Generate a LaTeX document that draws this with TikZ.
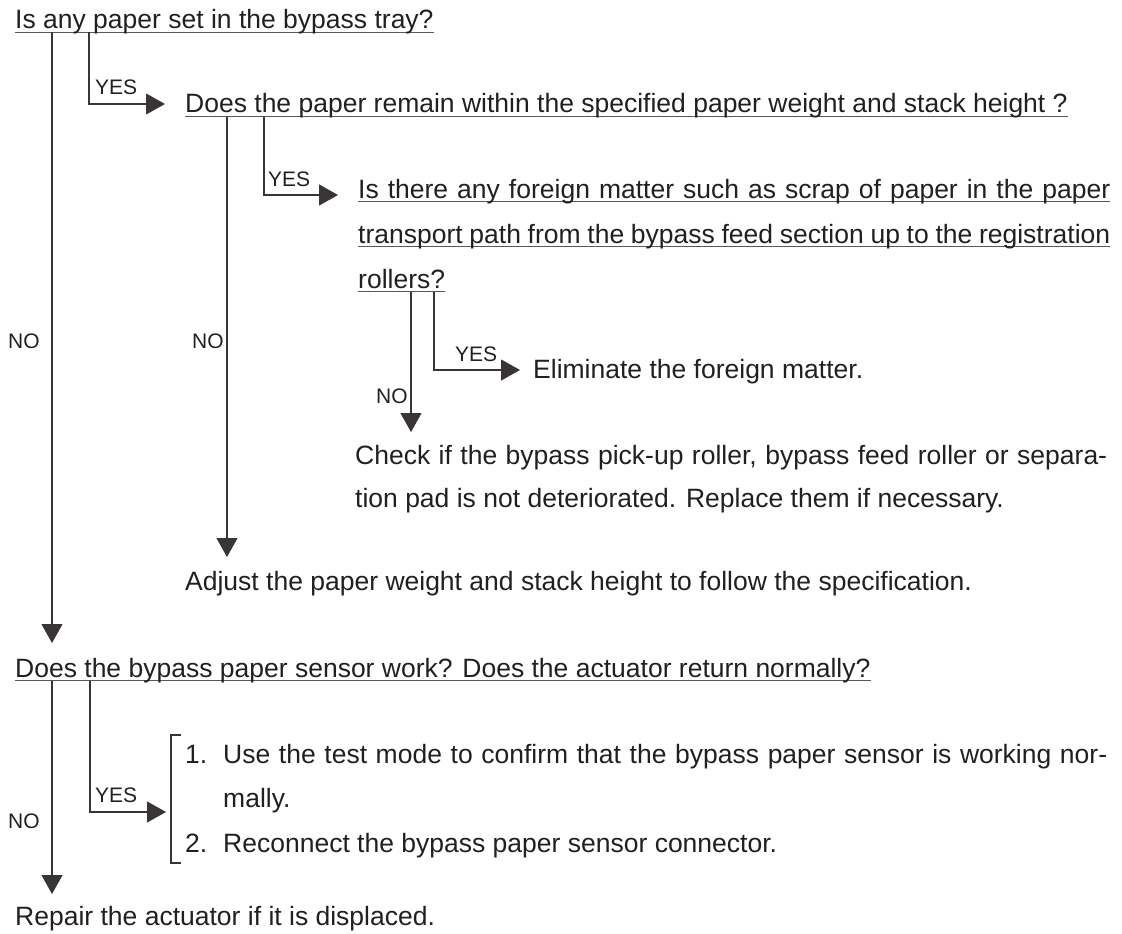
\documentclass[tikz,border=0pt]{standalone}
\usepackage{fontspec}
\setmainfont{Liberation Sans}
\usetikzlibrary{arrows.meta}
\definecolor{ink}{RGB}{35,31,32}
% 下划线与两端对齐的行
\newcommand{\ulbox}[1]{\setbox0\hbox{#1}\rlap{\color{ink!75}\rule[-4pt]{\wd0}{1.2pt}}\box0}
\newcommand{\jline}[2]{\makebox[#1][s]{#2}}

\begin{document}
\begin{tikzpicture}[x=1pt, y=-1pt,
    txt/.style={anchor=base west, inner sep=0pt, text=ink, font=\fontsize{26.5}{30}\selectfont},
    lbl/.style={anchor=base west, inner sep=0pt, text=ink, font=\fontsize{21}{24}\selectfont},
    wire/.style={draw=ink!90, line width=1.1pt},
    flow/.style={wire, -{Triangle[length=19pt, width=21pt]}}]
    \useasboundingbox (0,0) rectangle (1122,934);

    % 问题与处理
    \node[txt] (q1) at (15,29) {\ulbox{Is any paper set in the bypass tray?}};
    \node[txt] (q2) at (185,113) {\ulbox{Does the paper remain within the specified paper weight and stack height ?}};
    \node[txt] (q3a) at (358,198) {\ulbox{\jline{752pt}{Is there any foreign matter such as scrap of paper in the paper}}};
    \node[txt] (q3b) at (358,243) {\ulbox{\jline{752pt}{transport path from the bypass feed section up to the registration}}};
    \node[txt] (q3c) at (358,288) {\ulbox{rollers?}};
    \node[txt] (e1) at (533,378) {Eliminate the foreign matter.};
    \node[txt] (c1a) at (355,464) {\jline{752pt}{Check if the bypass pick-up roller, bypass feed roller or separa-}};
    \node[txt] (c1b) at (355,507) {tion pad is not deteriorated. Replace them if necessary.};
    \node[txt] (a1) at (185,590) {Adjust the paper weight and stack height to follow the specification.};
    \node[txt] (q4) at (15,677) {\ulbox{Does the bypass paper sensor work? Does the actuator return normally?}};
    \node[txt] (n1) at (185,763) {1.};
    \node[txt] (l1a) at (223,763) {\jline{884pt}{Use the test mode to confirm that the bypass paper sensor is working nor-}};
    \node[txt] (l1b) at (223,807) {mally.};
    \node[txt] (n2) at (185,852) {2.};
    \node[txt] (l2) at (223,852) {Reconnect the bypass paper sensor connector.};
    \node[txt] (r1) at (15,925) {Repair the actuator if it is displaced.};

    % YES / NO
    \node[lbl] (yes1) at (95,94) {YES};
    \node[lbl] (yes2) at (268,186) {YES};
    \node[lbl] (yes3) at (455,361) {YES};
    \node[lbl] (yes4) at (95,802) {YES};
    \node[lbl] (no1) at (8,348) {NO};
    \node[lbl] (no2) at (192,348) {NO};
    \node[lbl] (no3) at (376,403) {NO};
    \node[lbl] (no4) at (8,828) {NO};

    % 箭头
    \draw[flow] ([xshift=37pt, yshift=-3.5pt]q1.base west) -- ([xshift=37pt, yshift=34pt]q4.base west);
    \draw[flow] ([xshift=74pt, yshift=-3.5pt]q1.base west) |- ([xshift=-20pt, yshift=9pt]q2.base west);
    \draw[flow] ([xshift=42pt, yshift=-3.5pt]q2.base west) -- ([xshift=42pt, yshift=33pt]a1.base west);
    \draw[flow] ([xshift=79pt, yshift=-3.5pt]q2.base west) |- ([xshift=-20pt, yshift=3pt]q3a.base west);
    \draw[flow] ([xshift=53pt, yshift=-3.5pt]q3c.base west) -- ([xshift=56pt, yshift=32pt]c1a.base west);
    \draw[flow] ([xshift=76pt, yshift=-3.5pt]q3c.base west) |- ([xshift=-13pt, yshift=8pt]e1.base west);
    \draw[flow] ([xshift=37pt, yshift=-3.5pt]q4.base west) -- ([xshift=37pt, yshift=31pt]r1.base west);
    \draw[flow] ([xshift=75pt, yshift=-3.5pt]q4.base west) |- ([xshift=-19pt, yshift=-49pt]n1.base west);

    % 括号
    \draw[wire] ([xshift=-4pt, yshift=28pt]n1.base west) -- ([xshift=-14pt, yshift=28pt]n1.base west)
        -- ([xshift=-14pt, yshift=-11pt]n2.base west) -- ([xshift=-4pt, yshift=-11pt]n2.base west);
\end{tikzpicture}
\end{document}
